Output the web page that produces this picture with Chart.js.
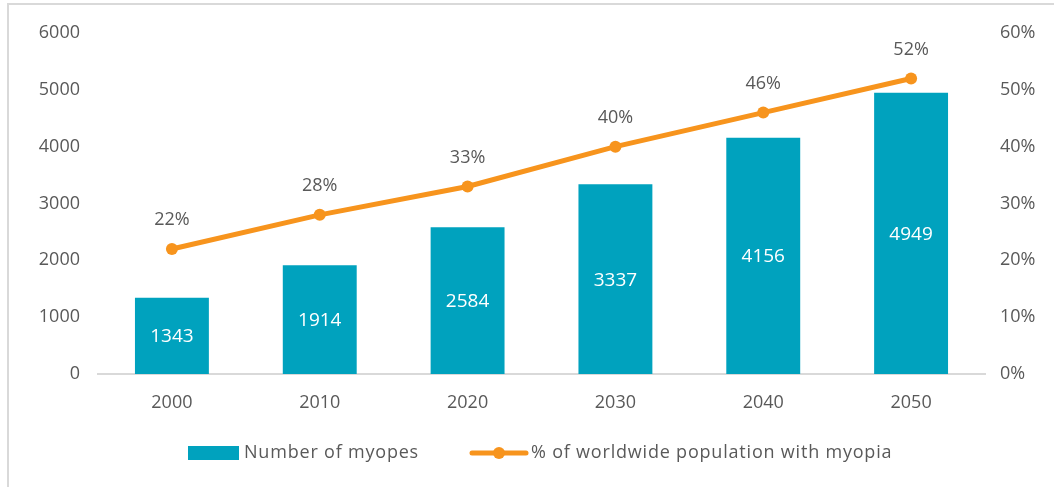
<!DOCTYPE html>
<html>
<head>
<meta charset="utf-8">
<script src="https://cdn.jsdelivr.net/npm/chart.js@4/dist/chart.umd.min.js"></script>
<style>
  html, body { margin: 0; padding: 0; background: #fff; }
  #wrap { position: relative; width: 1054px; height: 487px; }
  #frame { position: absolute; left: 7px; top: 3px; right: 0; bottom: 0;
           border-left: 2px solid #d9d9d9; border-top: 2px solid #d9d9d9; pointer-events: none; }
  canvas { position: absolute; left: 0; top: 0; }
</style>
</head>
<body>
<div id="wrap">
  <canvas id="c" width="1054" height="487"></canvas>
  <div id="frame"></div>
</div>
<script>
const years = ['2000', '2010', '2020', '2030', '2040', '2050'];
const myopes = [1343, 1914, 2584, 3337, 4156, 4949];
const sharePct = [22, 28, 33, 40, 46, 52];
const countTicks = [0, 1000, 2000, 3000, 4000, 5000, 6000];
const pctTicks = [0, 10, 20, 30, 40, 50, 60];

const BAR_COLOR = '#00a2be';
const LINE_COLOR = '#f7941d';
const TEXT_COLOR = '#595959';
const FONT = '"Open Sans", "Noto Sans", sans-serif';

// Value labels: inside the bars (white, centered) and above the line points.
const valueLabels = {
  id: 'valueLabels',
  afterDatasetsDraw(chart) {
    const ctx = chart.ctx;
    ctx.save();
    ctx.textAlign = 'center';
    ctx.textBaseline = 'middle';
    const bars = chart.getDatasetMeta(0).data;
    ctx.font = '19px ' + FONT;
    ctx.fillStyle = '#ffffff';
    bars.forEach((b, i) => {
      ctx.fillText(String(myopes[i]), b.x, (b.y + b.base) / 2 + 1);
    });
    const pts = chart.getDatasetMeta(1).data;
    ctx.font = '18px ' + FONT;
    ctx.fillStyle = TEXT_COLOR;
    pts.forEach((p, i) => {
      ctx.fillText(sharePct[i] + '%', p.x, p.y - 29);
    });
    ctx.restore();
  }
};

// Legend drawn below the axis: bar swatch and line-with-marker swatch.
const bottomLegend = {
  id: 'bottomLegend',
  afterDraw(chart) {
    const ctx = chart.ctx;
    const y = 453;
    ctx.save();
    ctx.font = '18px ' + FONT;
    ctx.letterSpacing = '0.8px';
    ctx.textBaseline = 'middle';
    ctx.textAlign = 'left';
    // bar entry
    ctx.fillStyle = BAR_COLOR;
    ctx.fillRect(188, y - 7, 51, 14);
    ctx.fillStyle = TEXT_COLOR;
    ctx.fillText(chart.data.datasets[0].label, 244, y);
    // line entry
    ctx.strokeStyle = LINE_COLOR;
    ctx.lineWidth = 5;
    ctx.lineCap = 'round';
    ctx.beginPath();
    ctx.moveTo(472, y);
    ctx.lineTo(526, y);
    ctx.stroke();
    ctx.fillStyle = LINE_COLOR;
    ctx.beginPath();
    ctx.arc(499, y, 6, 0, Math.PI * 2);
    ctx.fill();
    ctx.fillStyle = TEXT_COLOR;
    ctx.fillText(chart.data.datasets[1].label, 531, y);
    ctx.restore();
  }
};

new Chart(document.getElementById('c'), {
  type: 'bar',
  data: {
    labels: years,
    datasets: [
      {
        type: 'bar',
        label: 'Number of myopes',
        data: myopes,
        backgroundColor: BAR_COLOR,
        yAxisID: 'y',
        categoryPercentage: 1.0,
        barPercentage: 0.5,
        order: 2
      },
      {
        type: 'line',
        label: '% of worldwide population with myopia',
        data: sharePct,
        borderColor: LINE_COLOR,
        backgroundColor: LINE_COLOR,
        borderWidth: 5,
        pointRadius: 6,
        pointHoverRadius: 6,
        pointBackgroundColor: LINE_COLOR,
        pointBorderWidth: 0,
        tension: 0,
        yAxisID: 'y1',
        order: 1
      }
    ]
  },
  options: {
    responsive: false,
    animation: false,
    devicePixelRatio: 1,
    layout: { padding: { top: 33, left: 0, right: 0, bottom: 0 } },
    plugins: { legend: { display: false }, tooltip: { enabled: false } },
    scales: {
      x: {
        grid: { display: false, drawTicks: false },
        border: { display: true, color: '#d9d9d9', width: 2 },
        ticks: { color: TEXT_COLOR, font: { family: FONT, size: 18 }, padding: 18 },
        afterFit(s) { s.height = 113; }
      },
      y: {
        position: 'left',
        min: 0, max: 6000,
        afterBuildTicks(s) { s.ticks = countTicks.map(v => ({ value: v })); },
        grid: { display: false, drawTicks: false },
        border: { display: false },
        ticks: { color: TEXT_COLOR, font: { family: FONT, size: 18 }, padding: 18,
                 callback: v => String(v) },
        afterFit(s) { s.width = 98; }
      },
      y1: {
        position: 'right',
        min: 0, max: 60,
        afterBuildTicks(s) { s.ticks = pctTicks.map(v => ({ value: v })); },
        grid: { display: false, drawTicks: false },
        border: { display: false },
        ticks: { color: TEXT_COLOR, font: { family: FONT, size: 18 }, padding: 15,
                 callback: v => v + '%' },
        afterFit(s) { s.width = 69; }
      }
    }
  },
  plugins: [valueLabels, bottomLegend]
});
</script>
</body>
</html>
